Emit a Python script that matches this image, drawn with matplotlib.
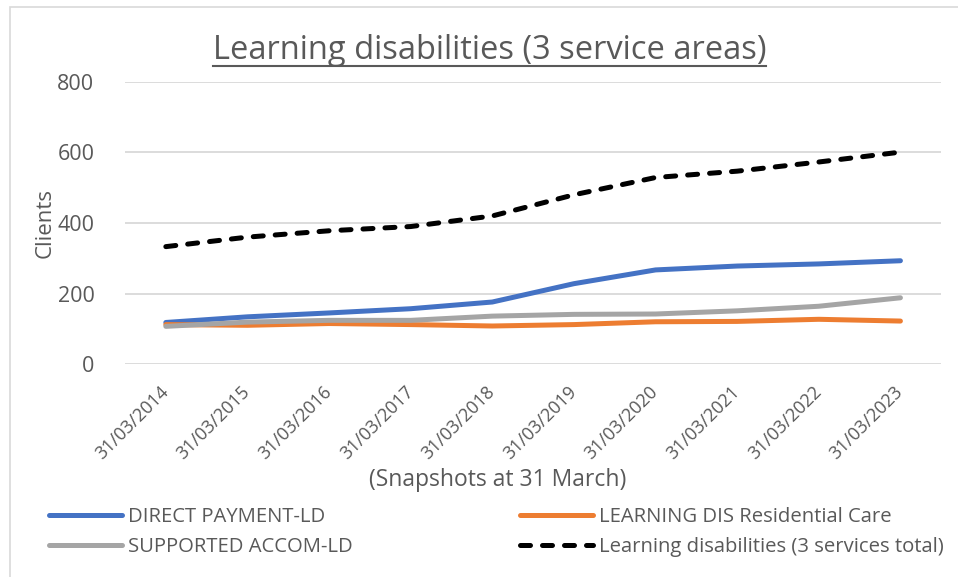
import matplotlib.pyplot as plt
from matplotlib.patches import Rectangle

# snapshot dates (31 March each year)
dates = ["31/03/2014", "31/03/2015", "31/03/2016", "31/03/2017", "31/03/2018",
         "31/03/2019", "31/03/2020", "31/03/2021", "31/03/2022", "31/03/2023"]

direct_payment = [118, 134, 145, 157, 176, 228, 267, 278, 284, 293]
residential_care = [112, 110, 115, 112, 108, 112, 120, 121, 127, 122]
supported_accom = [107, 119, 124, 124, 136, 141, 142, 151, 164, 188]
total = [333, 360, 378, 390, 420, 480, 529, 547, 573, 601]

y_ticks = [0, 200, 400, 600, 800]

TEXT = "#595959"
plt.rcParams["font.family"] = ["Open Sans", "DejaVu Sans"]

fig = plt.figure(figsize=(9.58, 5.77), dpi=100)
ax = fig.add_axes([0.1305, 0.369, 0.852, 0.489])

x = list(range(len(dates)))
ax.plot(x, direct_payment, color="#4472C4", lw=3.6, solid_capstyle="round",
        label="DIRECT PAYMENT-LD")
ax.plot(x, residential_care, color="#ED7D31", lw=3.6, solid_capstyle="round",
        label="LEARNING DIS Residential Care")
ax.plot(x, supported_accom, color="#A5A5A5", lw=3.6, solid_capstyle="round",
        label="SUPPORTED ACCOM-LD")
ax.plot(x, total, color="black", lw=3.6, dashes=(2.0, 2.4), dash_capstyle="round",
        label="Learning disabilities (3 services total)")

ax.set_xlim(-0.5, len(dates) - 0.5)
ax.set_ylim(0, 800)
ax.set_yticks(y_ticks)
ax.set_yticklabels([str(v) for v in y_ticks], fontsize=15.5, color=TEXT)
ax.set_xticks(x)
ax.set_xticklabels(dates, rotation=45, ha="right", va="center",
                   rotation_mode="anchor", fontsize=13, color=TEXT)
ax.tick_params(axis="y", length=0, pad=22)
ax.tick_params(axis="x", length=0, pad=18)
ax.grid(True, axis="y", color="#D9D9D9", lw=1.3)
ax.set_axisbelow(True)
for side in ax.spines.values():
    side.set_visible(False)

fig.text(0.047, 0.6135, "Clients", rotation=90, ha="center", va="center",
         fontsize=16, color=TEXT)
fig.text(0.519, 0.168, "(Snapshots at 31 March)", ha="center", va="center",
         fontsize=16.5, color=TEXT)

title = fig.text(0.511, 0.912, "Learning disabilities (3 service areas)",
                 ha="center", va="center", fontsize=23.5, color=TEXT)
# underline the title
fig.canvas.draw()
bb = title.get_window_extent()
x0, x1 = bb.x0 / fig.bbox.width, bb.x1 / fig.bbox.width
y_ul = (bb.y0 + 1) / fig.bbox.height
fig.add_artist(plt.Line2D([x0, x1], [y_ul, y_ul], color=TEXT, lw=1.5,
                          transform=fig.transFigure))

# two legend columns, placed separately like the Excel layout
handles, labels = ax.get_legend_handles_labels()
leg_kw = dict(frameon=False, fontsize=14.6, handlelength=3.6, handletextpad=0.3,
              labelspacing=0.5, borderaxespad=0, borderpad=0, labelcolor=TEXT,
              loc="center left")
fig.legend([handles[0], handles[2]], [labels[0], labels[2]],
           bbox_to_anchor=(49 / 958, 1 - 532 / 577), **leg_kw)
fig.legend([handles[1], handles[3]], [labels[1], labels[3]],
           bbox_to_anchor=(520 / 958, 1 - 532 / 577), **leg_kw)

# chart area border
fig.add_artist(Rectangle((10 / 958, -0.05), 1.0, 1 - 7 / 577 + 0.05,
                         transform=fig.transFigure, fill=False,
                         edgecolor="#D9D9D9", lw=1.2))

fig.savefig("out.png", dpi=100)
